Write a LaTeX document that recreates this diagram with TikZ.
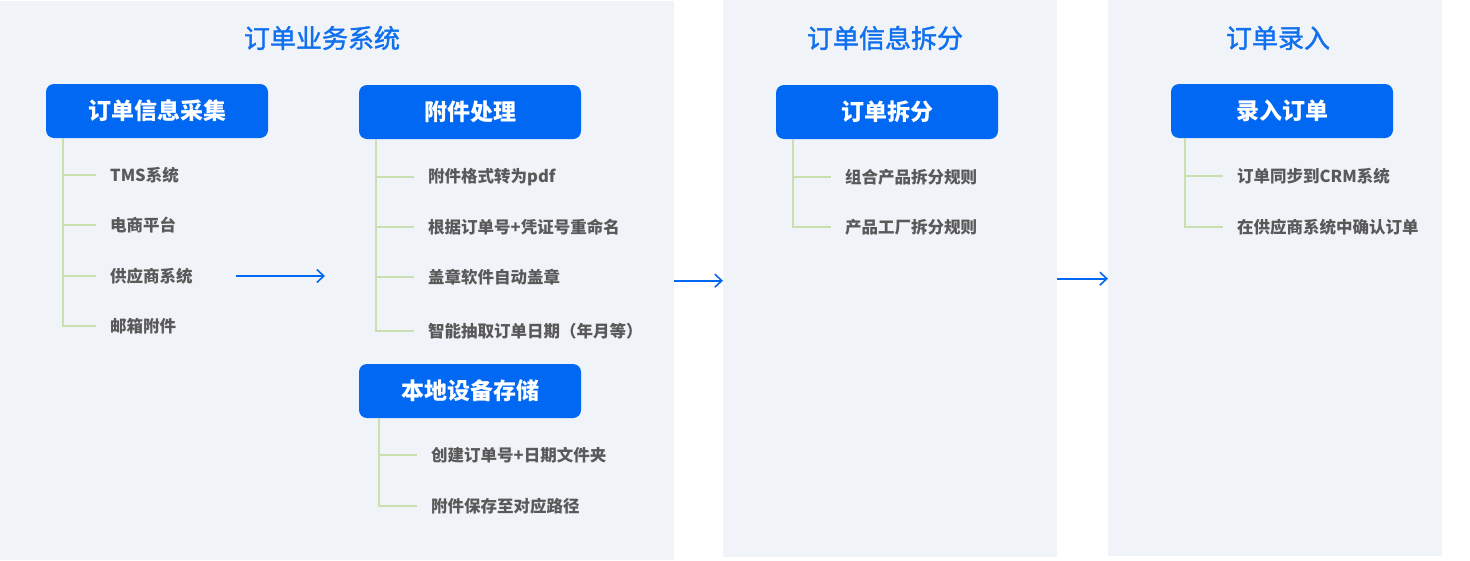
\documentclass[tikz,border=0pt]{standalone}
\usepackage{fontspec}
\setmainfont{Noto Sans CJK SC}
\newfontfamily\midfont[FakeBold=1.6]{Noto Sans CJK SC}
\usetikzlibrary{arrows.meta}

\definecolor{panelbg}{HTML}{F0F3F8}
\definecolor{boxblue}{HTML}{0068F2}
\definecolor{titleblue}{HTML}{1170EE}
\definecolor{itemgray}{HTML}{595959}
\definecolor{treegreen}{HTML}{C8E0B0}

\begin{document}
\begin{tikzpicture}[x=1pt,y=-1pt,
	panel/.style={fill=panelbg, inner sep=0pt, anchor=north west},
	title/.style={text=titleblue, font=\fontsize{26}{30}\midfont},
	head/.style={fill=boxblue, text=white, rounded corners=8pt, minimum width=222pt, minimum height=54pt, inner sep=0pt, font=\fontsize{23}{27}\selectfont\bfseries},
	item/.style={anchor=west, inner sep=0pt, text=itemgray, font=\fontsize{16.5}{20}\selectfont\bfseries},
	tree/.style={draw=treegreen, line width=1.5pt, shorten >=14pt},
	flow/.style={draw=boxblue, line width=1.6pt, -{Straight Barb[length=7pt,width=13pt]}}]
	
	\useasboundingbox (0,0) rectangle (1470,560);
	
	% 三个背景区域
	\node[panel, minimum width=674pt, minimum height=559pt] (p1) at (0,1) {};
	\node[panel, minimum width=334pt, minimum height=557pt] (p2) at (723,0) {};
	\node[panel, minimum width=334pt, minimum height=556pt] (p3) at (1108,0) {};
	
	% 区域标题
	\node[title] (t1) at (322,38) {订单业务系统};
	\node[title] (t2) at (885,38) {订单信息拆分};
	\node[title] (t3) at (1278,38) {订单录入};
	
	% 蓝色标题框
	\node[head] (h1) at (157,111) {订单信息采集};
	\node[head] (h2) at (470,112) {附件处理};
	\node[head] (h3) at (470,391) {本地设备存储};
	\node[head] (h4) at (887,112) {订单拆分};
	\node[head] (h5) at (1282,111) {录入订单};
	
	% 订单信息采集
	\node[item] (i11) at (110,175) {TMS系统};
	\node[item] (i12) at (110,225) {电商平台};
	\node[item] (i13) at (110,276) {供应商系统};
	\node[item] (i14) at (110,326) {邮箱附件};
	\draw[tree] ([xshift=17pt]h1.south west) |- (i11.west);
	\draw[tree] ([xshift=17pt]h1.south west) |- (i12.west);
	\draw[tree] ([xshift=17pt]h1.south west) |- (i13.west);
	\draw[tree] ([xshift=17pt]h1.south west) |- (i14.west);
	
	% 附件处理
	\node[item] (i21) at (428,177) {附件格式转为pdf};
	\node[item] (i22) at (428,227) {根据订单号+凭证号重命名};
	\node[item] (i23) at (428,277) {盖章软件自动盖章};
	\node[item] (i24) at (428,331) {智能抽取订单日期（年月等）};
	\draw[tree] ([xshift=17pt]h2.south west) |- (i21.west);
	\draw[tree] ([xshift=17pt]h2.south west) |- (i22.west);
	\draw[tree] ([xshift=17pt]h2.south west) |- (i23.west);
	\draw[tree] ([xshift=17pt]h2.south west) |- (i24.west);
	
	% 本地设备存储
	\node[item] (i31) at (431,455) {创建订单号+日期文件夹};
	\node[item] (i32) at (431,506) {附件保存至对应路径};
	\draw[tree] ([xshift=20pt]h3.south west) |- (i31.west);
	\draw[tree] ([xshift=20pt]h3.south west) |- (i32.west);
	
	% 订单拆分
	\node[item] (i41) at (845,177) {组合产品拆分规则};
	\node[item] (i42) at (845,227) {产品工厂拆分规则};
	\draw[tree] ([xshift=17pt]h4.south west) |- (i41.west);
	\draw[tree] ([xshift=17pt]h4.south west) |- (i42.west);
	
	% 录入订单
	\node[item] (i51) at (1237,176) {订单同步到CRM系统};
	\node[item] (i52) at (1237,227) {在供应商系统中确认订单};
	\draw[tree] ([xshift=14pt]h5.south west) |- (i51.west);
	\draw[tree] ([xshift=14pt]h5.south west) |- (i52.west);
	
	% 流程箭头
	\coordinate (c1) at (236,276);
	\coordinate (c2) at (325,276);
	\draw[flow] (c1) -- (c2);
	\draw[flow] (p1.east) -- (p1.east -| p2.west);
	\draw[flow] (p2.east) -- (p2.east -| p3.west);
	
\end{tikzpicture}
\end{document}
